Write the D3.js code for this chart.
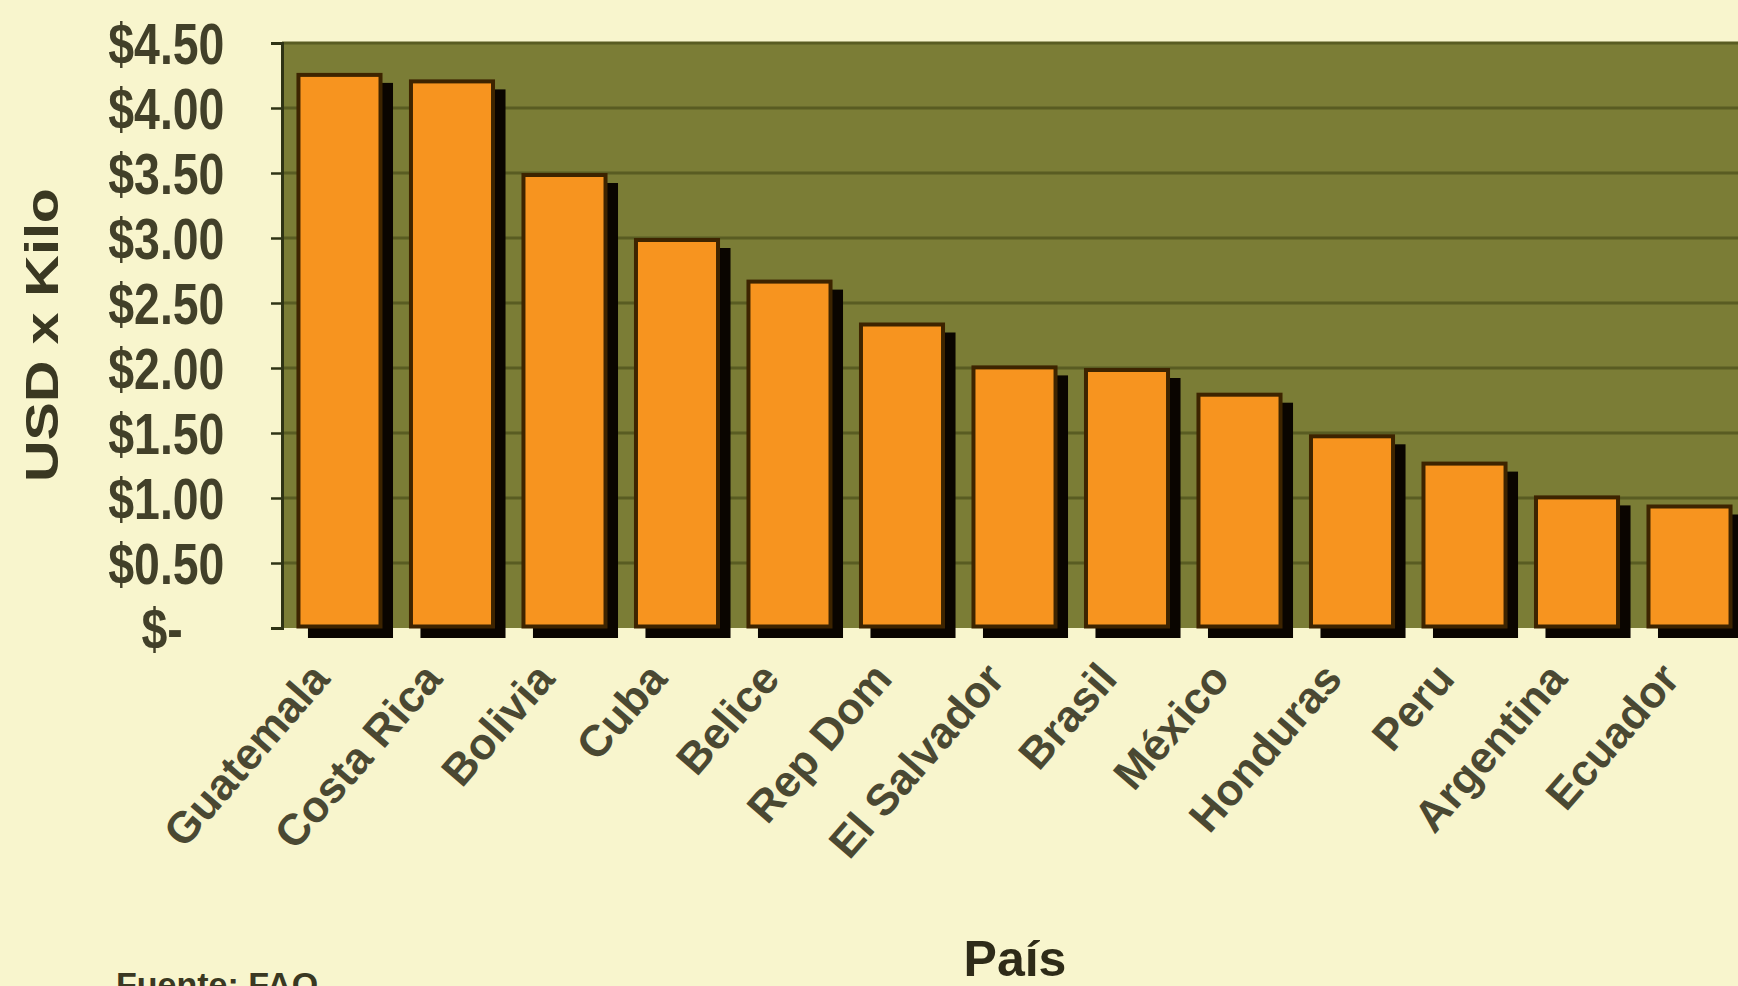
<!DOCTYPE html>
<html>
<head>
<meta charset="utf-8">
<script src="https://cdn.jsdelivr.net/npm/d3@7"></script>
<style>
  body { margin: 0; background: #f8f5cd; }
  svg { display: block; }
</style>
</head>
<body>
<svg></svg>
<script>
// Data
const countries = ["Guatemala", "Costa Rica", "Bolivia", "Cuba", "Belice", "Rep Dom", "El Salvador",
                   "Brasil", "México", "Honduras", "Peru", "Argentina", "Ecuador"];
const prices = [4.27, 4.22, 3.50, 3.00, 2.68, 2.35, 2.02, 2.00, 1.81, 1.49, 1.28, 1.02, 0.95];
const tickValues = [0, 0.5, 1, 1.5, 2, 2.5, 3, 3.5, 4, 4.5];
const tickLabels = ["$-", "$0.50", "$1.00", "$1.50", "$2.00", "$2.50", "$3.00", "$3.50", "$4.00", "$4.50"];

const width = 1738, height = 986;
const svg = d3.select("svg").attr("width", width).attr("height", height);

svg.append("rect")
    .attr("width", width).attr("height", height)
    .attr("fill", "#f8f5cd");

// plot area
const plotLeft = 282, plotTop = 43, plotBottom = 628;

const x = d3.scaleBand()
    .domain(countries)
    .range([plotLeft, plotLeft + 1465])
    .paddingInner(0.244)
    .paddingOuter(0.133);

const y = d3.scaleLinear()
    .domain([0, 4.5])
    .range([plotBottom, plotTop]);

// olive background
svg.append("rect")
    .attr("x", plotLeft).attr("y", plotTop)
    .attr("width", width - plotLeft).attr("height", plotBottom - plotTop)
    .attr("fill", "#7b7d36");

// gridlines
svg.append("g")
    .selectAll("line")
    .data(tickValues.filter(d => d > 0))
    .join("line")
    .attr("x1", plotLeft).attr("x2", width)
    .attr("y1", d => y(d)).attr("y2", d => y(d))
    .attr("stroke", "#595c22")
    .attr("stroke-width", 3);

// shadows
svg.append("g")
    .selectAll("rect")
    .data(prices)
    .join("rect")
    .attr("x", (d, i) => x(countries[i]) + 11)
    .attr("y", d => y(d) + 10)
    .attr("width", x.bandwidth())
    .attr("height", d => plotBottom - y(d))
    .attr("fill", "#0a0500");

// bars
svg.append("g")
    .selectAll("rect")
    .data(prices)
    .join("rect")
    .attr("x", (d, i) => x(countries[i]) + 1.5)
    .attr("y", d => y(d) + 2)
    .attr("width", x.bandwidth() - 3)
    .attr("height", d => plotBottom - y(d) - 3.5)
    .attr("fill", "#f7941f")
    .attr("stroke", "#3d2400")
    .attr("stroke-width", 4);

// y axis
const yAxis = svg.append("g")
    .attr("transform", `translate(${plotLeft},0)`)
    .call(d3.axisLeft(y)
        .tickValues(tickValues)
        .tickFormat((d, i) => tickLabels[i])
        .tickSize(11)
        .tickPadding(0));

yAxis.select(".domain").attr("stroke", "#2f3315").attr("stroke-width", 3);
yAxis.selectAll(".tick line").attr("stroke", "#2f3315").attr("stroke-width", 2.5);
yAxis.selectAll(".tick text")
    .attr("x", d => d === 0 ? -124 : -72)
    .attr("transform", "scale(0.8,1)")
    .attr("dy", "0.36em")
    .attr("fill", "#424029")
    .style("font-family", "'Liberation Sans', Arial, sans-serif")
    .style("font-weight", "bold")
    .style("font-size", "58px");

// x labels
svg.append("g")
    .selectAll("text")
    .data(countries)
    .join("text")
    .attr("transform", d => `translate(${x(d) + x.bandwidth() / 2 - 8},${plotBottom + 52}) rotate(-49)`)
    .attr("text-anchor", "end")
    .attr("fill", "#4a4832")
    .style("font-family", "'Liberation Sans', Arial, sans-serif")
    .style("font-weight", "bold")
    .style("font-size", "44px")
    .text(d => d);

// axis titles
svg.append("text")
    .attr("transform", "translate(58,335) rotate(-90)")
    .attr("text-anchor", "middle")
    .attr("textLength", 294)
    .attr("lengthAdjust", "spacingAndGlyphs")
    .attr("fill", "#3a3822")
    .style("font-family", "'Liberation Sans', Arial, sans-serif")
    .style("font-weight", "bold")
    .style("font-size", "46px")
    .text("USD x Kilo");

svg.append("text")
    .attr("x", 1015)
    .attr("y", 976)
    .attr("text-anchor", "middle")
    .attr("fill", "#2e2b18")
    .style("font-family", "'Liberation Sans', Arial, sans-serif")
    .style("font-weight", "bold")
    .style("font-size", "50px")
    .text("País");

svg.append("text")
    .attr("x", 116)
    .attr("y", 996)
    .attr("fill", "#3a3822")
    .style("font-family", "'Liberation Sans', Arial, sans-serif")
    .style("font-weight", "bold")
    .style("font-size", "34px")
    .text("Fuente: FAO");
</script>
</body>
</html>
